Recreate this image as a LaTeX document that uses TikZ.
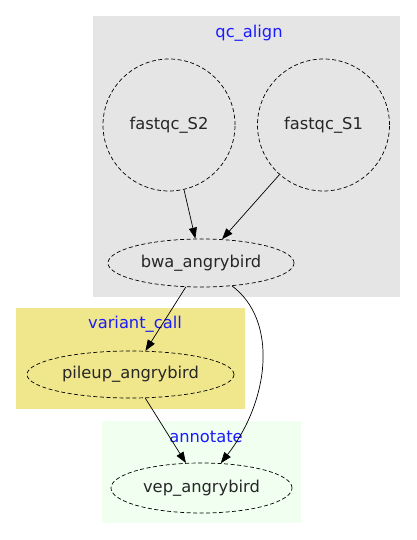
\documentclass[tikz,border=0pt]{standalone}
\usepackage{fontspec}
\setmainfont{DejaVu Sans}
\usetikzlibrary{shapes.geometric, arrows.meta}
\definecolor{khaki}{HTML}{F0E68C}
\definecolor{honeydew}{HTML}{F0FFF0}
\definecolor{clustergray}{HTML}{E5E5E5}
\definecolor{labelblue}{HTML}{1A1AFF}
\begin{document}
\begin{tikzpicture}[x=1pt, y=-1pt, >={Triangle[length=11pt, width=8pt]},
        font=\fontsize{16.3}{19}\selectfont,
        job/.style={draw, ellipse, inner sep=0pt, line width=0.7pt, dash pattern=on 4pt off 2.5pt, text=black!85},
        qcjob/.style={draw, circle, minimum size=132pt, inner sep=0pt, line width=0.7pt, dash pattern=on 4pt off 2.5pt, text=black!85},
        grouplabel/.style={text=labelblue}]
        \useasboundingbox (0,0) rectangle (416,540);

        % Draw cluster boxes
        \fill[clustergray] (93,16) rectangle (400,297);
        \fill[khaki] (16,308) rectangle (245,409);
        \fill[honeydew] (102,421) rectangle (301,523);
        \node[grouplabel] (qclabel) at (249,33) {qc\_align};
        \node[grouplabel] (calllabel) at (135,324) {variant\_call};
        \node[grouplabel] (annolabel) at (206,437) {annotate};

        % Jobs
        \node[qcjob] (fqS2) at (169,125) {fastqc\_S2};
        \node[qcjob] (fqS1) at (323.5,125) {fastqc\_S1};
        \node[job, minimum width=186pt, minimum height=48pt] (bwa) at (201,263) {bwa\_angrybird};
        \node[job, minimum width=207pt, minimum height=47pt] (pileup) at (130.5,374.5) {pileup\_angrybird};
        \node[job, minimum width=181pt, minimum height=50pt] (vep) at (201.5,488) {vep\_angrybird};

        % Dependencies
        \draw[->, line width=0.7pt] (fqS2) -- (bwa);
        \draw[->, line width=0.7pt] (fqS1) -- (bwa);
        \draw[->, line width=0.7pt] (bwa) -- (pileup);
        \draw[->, line width=0.7pt] (pileup) -- (vep);
        \draw[->, line width=0.7pt] (bwa) .. controls (278,320) and (270,400) .. (vep);
    \end{tikzpicture}
\end{document}
